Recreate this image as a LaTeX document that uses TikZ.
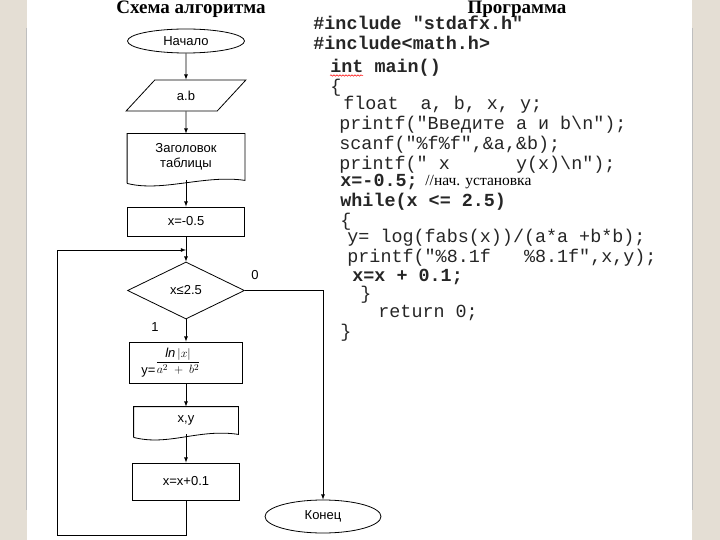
\documentclass[tikz,border=0pt]{standalone}
\usepackage{fontspec}
\setmainfont{Liberation Sans}
\newfontfamily\codefont{Liberation Mono}
\newfontfamily\titlefont{Liberation Serif}
\usepackage{tikz}
\usetikzlibrary{shapes.geometric,arrows,decorations.pathmorphing}
\definecolor{pagebg}{HTML}{E4DED4}
\definecolor{codeink}{HTML}{262626}

\begin{document}
\begin{tikzpicture}[x=1pt, y=-1pt, >=latex, line width=0.8pt,
    every node/.style={font=\fontsize{13}{15}\selectfont},
    block/.style={draw, rectangle, minimum width=117pt, minimum height=29pt, inner sep=0pt},
    terminal/.style={draw, ellipse, minimum width=117pt, minimum height=24pt, inner sep=0pt},
    io/.style={draw, trapezium, trapezium left angle=49, trapezium right angle=131,
        trapezium stretches=true, minimum width=120pt, minimum height=31pt, inner sep=0pt},
    decision/.style={draw, diamond, minimum width=117pt, minimum height=57pt, inner sep=0pt},
    doc/.style={rectangle, minimum width=117pt, minimum height=46pt, inner sep=0pt, align=center},
    code/.style={anchor=west, inner sep=0pt, text height=10pt, text depth=3pt, text=codeink,
        font=\codefont\fontsize{18.4}{20}\selectfont},
    heading/.style={anchor=base, inner sep=0pt, font=\titlefont\bfseries\fontsize{19}{21}\selectfont}]

                % page
                \useasboundingbox (0,0) rectangle (720,540);
                \fill[pagebg] (0,0) rectangle (720,540);
                \fill[white] (27,0) rectangle (692,540);
                \draw[gray!50, line width=0.6pt] (26,28) -- (26,510);
                \draw[gray!50, line width=0.6pt] (692.5,28) -- (692.5,510);

                % headings
                \node[heading] (title-flow) at (191,14) {Схема алгоритма};
                \node[heading] (title-prog) at (517,14) {Программа};

                % flowchart
                \node[terminal] (start) at (186,41) {Начало};
                \node[io] (input) at (186,95.5) {a.b};
                \node[doc] (head) at (186,157) {Заголовок\\таблицы};
                \node[block] (init) at (186,221.5) {x=-0.5};
                \node[decision] (cond) at (186,290.5) {x≤2.5};
                \node[block, minimum width=113pt, minimum height=41pt] (calc) at (186,362.5)
                    {\raisebox{-1.3ex}{y=}$\displaystyle\frac{\mathit{ln}\,|x|}{a^{2}\;+\;b^{2}}$\hspace*{30pt}};
                \node[doc, minimum width=104pt, minimum height=27pt] (out) at (186,420.5) {x,y};
                \node[block, minimum width=107pt, minimum height=37pt] (step) at (186,481.5) {x=x+0.1};
                \node[terminal, minimum width=116pt, minimum height=33pt] (stop) at (323,516.5) {Конец};
                \coordinate (join) at (186,250);

                % document outlines
                \foreach \n in {head,out}
                    \draw ([yshift=-3pt]\n.south west) -- (\n.north west) -- (\n.north east) -- (\n.south east)
                        .. controls ([xshift=-40pt,yshift=6pt]\n.south east)
                        and ([xshift=35pt,yshift=-12pt]\n.south west) .. ([yshift=-3pt]\n.south west);

                % branch labels
                \node (no) at (255,275) {0};
                \node (yes) at (155,327) {1};

                % connectors
                \draw[->] (start) -- (input);
                \draw[->] (input) -- (head);
                \draw[->] (head) -- (init);
                \draw[->] (init) -- (cond);
                \draw[->] (cond) -- (calc);
                \draw[->] (calc) -- (out);
                \draw[->] (out) -- (step);
                \draw[->] (cond.east) -| (stop.north);
                \draw[->] (step.south) -- ++(0,35) -| ([xshift=-129pt]join) -- (join);

                % program text
                \foreach \x/\y/\t [count=\i] in {
                    313/26/{\bfseries\#include "stdafx.h"},
                    313/46/{\bfseries\#include<math.h>},
                    330/69/{\bfseries int main()},
                    330/89/{\{},
                    343/106/{float~~a, b, x, y;},
                    339/126/{printf("Введите a и b\textbackslash n");},
                    339/146/{scanf("\%f\%f",\&a,\&b);},
                    339/166/{printf(" x~~~~~~y(x)\textbackslash n");},
                    340/183/{\bfseries x=-0.5;},
                    340/203/{\bfseries while(x <= 2.5)},
                    340/223/{\{},
                    347/239/{y= log(fabs(x))/(a*a +b*b);},
                    347/259/{printf("\%8.1f~~~\%8.1f",x,y);},
                    352/278/{\bfseries x=x + 0.1;},
                    360/296/{\}},
                    378/314/{return 0;},
                    340/334/{\}}}
                    \node[code] (code-\i) at (\x,\y) {\t};

                \node[anchor=west, inner sep=0pt, text height=11pt, text depth=3pt,
                    font=\titlefont\fontsize{15.5}{17}\selectfont] (comment) at (425,182) {//нач. установка};

                % spelling mark
                \draw[red, line width=0.5pt, decorate, decoration={snake, amplitude=0.7pt, segment length=3pt}]
                    ([yshift=-3pt]code-3.base west) -- ([yshift=-3pt,xshift=33pt]code-3.base west);

\end{tikzpicture}
\end{document}
